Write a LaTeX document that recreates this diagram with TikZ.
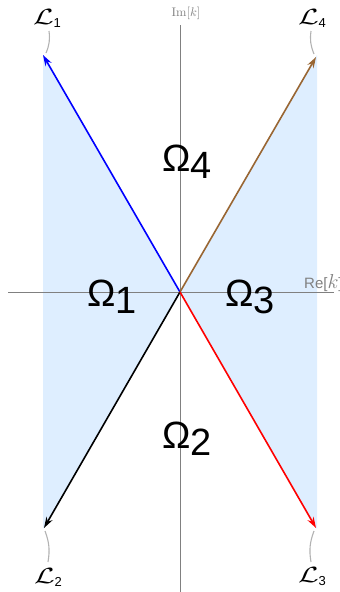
\documentclass[tikz,border=0pt]{standalone}
\usepackage{fontspec}
\setsansfont{Liberation Sans}
\usetikzlibrary{arrows.meta}
\definecolor{regionblue}{RGB}{222,238,255}
\definecolor{axisgray}{RGB}{128,128,128}
\definecolor{brownline}{RGB}{153,102,51}
\tikzset{
  axis/.style={draw=axisgray, line width=0.8pt},
  ray/.style={line width=1.6pt, -{Stealth[length=11pt,width=7pt]}},
  omega/.style={font=\fontsize{38}{38}\sffamily, inner sep=0pt, anchor=base west},
  llabel/.style={inner sep=0pt},
  callout/.style={draw=black!30, line width=1.1pt},
}
\newcommand{\Lsub}[1]{\scalebox{3}[2.2]{$\mathcal{L}$}\raisebox{-3pt}{\fontsize{13}{13}\sffamily #1}}
\newcommand{\Om}[1]{Ω\raisebox{-7pt}{#1}}
\begin{document}
\begin{tikzpicture}[x=1pt,y=-1pt]
\clip (0,0) rectangle (340,592);
\useasboundingbox (0,0) rectangle (340,592);
\coordinate (O) at (180,292);
\coordinate (t1) at (43,55);
\coordinate (t4) at (316,57);
\coordinate (t2) at (44,528);
\coordinate (t3) at (316,528);
% shading
\fill[regionblue] (O) -- (43,55) -- (43,529) -- cycle;
\fill[regionblue] (O) -- (317,55) -- (317,529) -- cycle;
% axes
\coordinate (xl) at (8,292);
\coordinate (xr) at (334,292);
\coordinate (yt) at (180,25);
\coordinate (yb) at (180,592);
\draw[axis] (xl) -- (xr);
\draw[axis] (yt) -- (yb);
\node[text=axisgray, inner sep=0pt] (im) at (186,13) {\scalebox{1.25}{Im$[k]$}};
\node[text=axisgray, font=\fontsize{15}{15}\sffamily, inner sep=0pt, anchor=west] (re) at (304,283) {Re[\scalebox{1.4}{$k$}]};
% rays
\draw[ray, blue] (O) -- (t1);
\draw[ray, brownline] (O) -- (t4);
\draw[ray, black] (O) -- (t2);
\draw[ray, red] (O) -- (t3);
% labels
\node[llabel] (L1) at (47,18) {\Lsub{1}};
\node[llabel] (L4) at (312,18) {\Lsub{4}};
\node[llabel] (L2) at (48,577) {\Lsub{2}};
\node[llabel] (L3) at (312,577) {\Lsub{3}};
\coordinate (c1a) at (49,31);
\coordinate (c1b) at (46,53);
\coordinate (c4a) at (311,31);
\coordinate (c4b) at (314,54);
\coordinate (c2a) at (48,562);
\coordinate (c2b) at (45,531);
\coordinate (c3a) at (311,562);
\coordinate (c3b) at (314,531);
\draw[callout] (c1a) to[bend left=15] (c1b);
\draw[callout] (c4a) to[bend right=15] (c4b);
\draw[callout] (c2a) to[bend right=15] (c2b);
\draw[callout] (c3a) to[bend left=15] (c3b);
% regions
\node[omega] (W4) at (162,171) {\Om{4}};
\node[omega] (W1) at (87,306) {\Om{1}};
\node[omega] (W3) at (225,306) {\Om{3}};
\node[omega] (W2) at (162,448) {\Om{2}};
\end{tikzpicture}
\end{document}
